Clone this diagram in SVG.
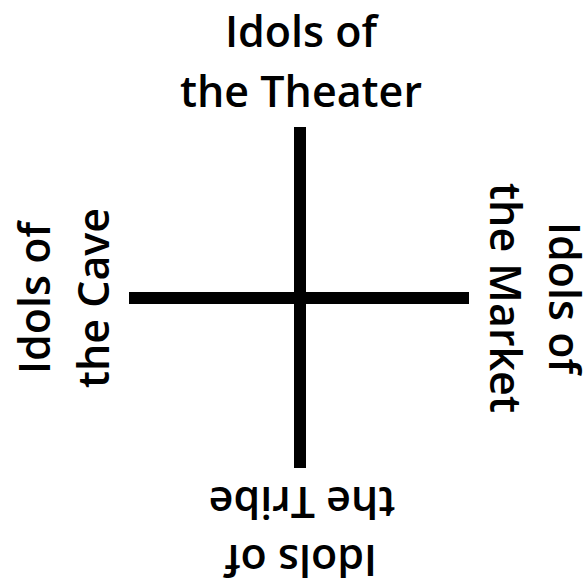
<svg xmlns="http://www.w3.org/2000/svg" width="585" height="583" viewBox="0 0 585 583">
  <style>
    .lbl { font-family: "Open Sans", "Noto Sans", sans-serif; font-size: 43px; font-weight: 600; fill: #000; text-anchor: middle; }
    .bar { stroke: #000; stroke-width: 12; fill: none; }
  </style>
  <rect width="585" height="583" fill="#fff"/>
  <g id="connectors">
    <line class="bar" x1="300" y1="127" x2="300" y2="468"/>
    <line class="bar" x1="129" y1="298" x2="469" y2="298"/>
  </g>
  <g id="theater">
    <text class="lbl" x="301" y="47">Idols of</text>
    <text class="lbl" x="301" y="107">the Theater</text>
  </g>
  <g id="cave" transform="rotate(-90 300 298)">
    <text class="lbl" x="300" y="48">Idols of</text>
    <text class="lbl" x="300" y="107">the Cave</text>
  </g>
  <g id="market" transform="rotate(90 300 298)">
    <text class="lbl" x="300" y="49">Idols of</text>
    <text class="lbl" x="300" y="108">the Market</text>
  </g>
  <g id="tribe" transform="rotate(180 300 298)">
    <text class="lbl" x="299" y="51">Idols of</text>
    <text class="lbl" x="298" y="109">the Tribe</text>
  </g>
</svg>
